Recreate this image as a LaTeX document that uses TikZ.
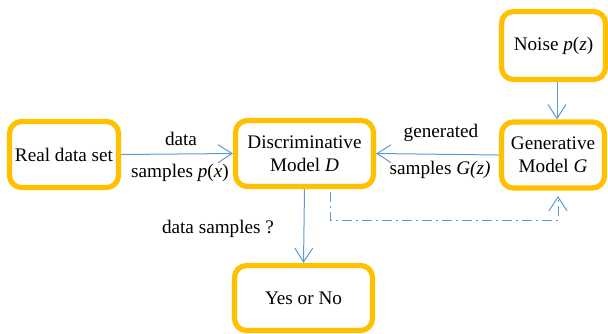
\documentclass[tikz,border=0pt]{standalone}
\usepackage{fontspec}
\setmainfont{Liberation Serif}
\usetikzlibrary{arrows.meta}
\definecolor{boxorange}{HTML}{FFC000}
\definecolor{lineblue}{HTML}{5B9BD5}
\tikzset{
  ganbox/.style={draw=boxorange, line width=2.6pt, rounded corners=6pt, fill=white,
    align=center, font=\rmfamily\fontsize{9.6}{11.6}\selectfont, inner sep=1pt},
  flow/.style={draw=lineblue, line width=0.5pt, -{Straight Barb[length=7pt,width=9pt]}},
  lbl/.style={font=\rmfamily\fontsize{9.6}{11.6}\selectfont, inner sep=0pt}
}
\begin{document}
\begin{tikzpicture}[x=0.5pt,y=-0.5pt]
\useasboundingbox (0,0) rectangle (608,333);
\node[
      ganbox,
      minimum width=54.5pt,
      minimum height=33pt
] (real) at (64,154.5) {Real data set};
\node[
      ganbox,
      minimum width=69pt,
      minimum height=33pt
] (disc) at (304.5,153.5) {Discriminative\\Model \textit{D}};
\node[
      ganbox,
      minimum width=51.5pt,
      minimum height=33pt
] (gen) at (553,155) {Generative\\Model \textit{G}};
\node[
      ganbox,
      minimum width=52pt,
      minimum height=34pt
] (noise) at (553.5,45.5) {Noise \textit{p}(\textit{z})};
\node[
      ganbox,
      minimum width=69pt,
      minimum height=32.5pt
] (yesno) at (303.5,298) {Yes or No};

%< -- solid connectors
\draw[flow] (real.east) -- (disc.west);
\draw[flow] (gen.west) -- (disc.east);
\draw[flow] (noise.south -| 557,0) -- (gen.north -| 557,0);
\draw[flow] (disc.south) -- (yesno.north);

%< -- feedback from D back to G
\coordinate (fbstart) at (330,192);
\coordinate (fbend) at (558,196);
\draw[flow, dash pattern=on 5pt off 2pt on 1pt off 2pt]
  (fbstart) -- (330,220) -- (558,220) -- (fbend);

\node[lbl] (lbldata) at (181,139) {data};
\node[lbl] (lblpx) at (180,173) {samples \textit{p}(\textit{x})};
\node[lbl] (lblgen) at (441,133) {generated};
\node[lbl] (lblgz) at (440,170) {samples \textit{G(z)}};
\node[lbl] (lblq) at (218,229) {data samples ?};
\end{tikzpicture}
\end{document}
